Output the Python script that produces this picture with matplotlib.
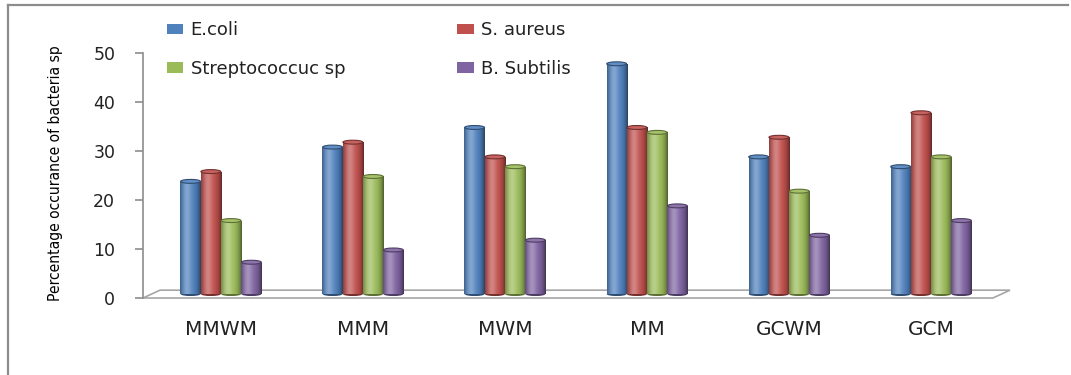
import numpy as np
import matplotlib
matplotlib.use("Agg")
import matplotlib.pyplot as plt
from matplotlib.patches import Ellipse, Polygon
from matplotlib.lines import Line2D
from matplotlib.colors import to_rgb

# ---- data -------------------------------------------------------------
categories = ["MMWM", "MMM", "MWM", "MM", "GCWM", "GCM"]
series_names = ["E.coli", "S. aureus", "Streptococcuc sp", "B. Subtilis"]
ecoli = [23, 30, 34, 47, 28, 26]
s_aureus = [25, 31, 28, 34, 32, 37]
streptococcus = [15, 24, 26, 33, 21, 28]
b_subtilis = [6.5, 9, 11, 18, 12, 15]
y_ticks = [0, 10, 20, 30, 40, 50]

series_values = [ecoli, s_aureus, streptococcus, b_subtilis]
colors = ["#4F81BD", "#C0504D", "#9BBB59", "#8064A2"]

# ---- figure -----------------------------------------------------------
fig = plt.figure(figsize=(10.71, 3.75), dpi=100)
fig.patch.set_facecolor("white")

W, H = 1071, 375
ax = fig.add_axes([143 / W, 1 - 298 / H, 867 / W, 245 / H])
ax.set_facecolor("none")

bar_w = 0.1426
depth_base = 0.8          # bars stand in the middle of the 3-D floor
floor_dx, floor_dy = 0.12, 1.6
xlim = (-0.549, 5.556)

x = np.arange(len(categories))


def cylinder_rgb(c, n=64):
    """Horizontal shading profile that makes a flat bar look like a cylinder."""
    base = np.array(to_rgb(c))
    t = np.linspace(0, 1, n)
    # highlight a bit left of the centre, darker rims
    light = np.exp(-((t - 0.33) / 0.22) ** 2) * 0.30
    dark = (np.abs(t - 0.45) / 0.55) ** 3 * 0.50
    rgb = base[None, :] * (1 - dark[:, None]) + (1 - base[None, :]) * light[:, None]
    return np.clip(rgb, 0, 1)[None, :, :]


handles = []
for i, (vals, col) in enumerate(zip(series_values, colors)):
    xs = x + (i - 1.5) * bar_w
    bars = ax.bar(xs, vals, width=bar_w, bottom=depth_base, color=col,
                  linewidth=0, zorder=3, label=series_names[i])
    handles.append(bars)
    grad = cylinder_rgb(col)
    cap_col = np.clip(np.array(to_rgb(col)) * 0.9 + 0.1, 0, 1)
    rim_col = np.array(to_rgb(col)) * 0.6
    for rect, v, xc in zip(bars.patches, vals, xs):
        im = ax.imshow(grad, extent=(xc - bar_w / 2, xc + bar_w / 2,
                                     depth_base, depth_base + v),
                       aspect="auto", zorder=3.1, interpolation="bilinear")
        im.set_clip_path(rect)
        ax.add_patch(Ellipse((xc, depth_base + v), bar_w * 0.98, 0.8,
                             facecolor=cap_col, edgecolor=rim_col,
                             linewidth=0.8, zorder=3.2))
        ax.add_patch(Ellipse((xc, depth_base), bar_w * 0.98, 0.8,
                             facecolor=rim_col, edgecolor="none",
                             zorder=2.9))

# ---- 3-D floor ------------------------------------------------------
front_right = xlim[1] - floor_dx
floor = Polygon([(xlim[0], 0), (front_right, 0),
                 (front_right + floor_dx, floor_dy),
                 (xlim[0] + floor_dx, floor_dy)],
                closed=True, facecolor="white", edgecolor="#A6A6A6",
                linewidth=1.2, zorder=1, clip_on=False)
ax.add_patch(floor)

# ---- axes styling ---------------------------------------------------
ax.set_xlim(*xlim)
ax.set_ylim(0, 50)
ax.set_yticks(y_ticks)
ax.set_xticks(x)
ax.set_xticklabels(categories)
for side in ("top", "right", "bottom"):
    ax.spines[side].set_visible(False)
ax.spines["left"].set_color("#8C8C8C")
ax.spines["left"].set_linewidth(1.2)
ax.tick_params(axis="y", direction="out", length=6, width=1.2,
               color="#8C8C8C", pad=14, labelsize=12.5, labelcolor="#222222")
ax.tick_params(axis="x", length=0, pad=16, labelsize=14.5,
               labelcolor="#222222")
for lab in ax.get_yticklabels() + ax.get_xticklabels():
    lab.set_fontfamily("DejaVu Sans")

ax.set_ylabel("Percentage occurance of bacteria sp",
              fontsize=11.2, family="DejaVu Sans", fontstretch="condensed",
              color="black")
ax.yaxis.set_label_coords(-0.092, 0.51)

# ---- legend ---------------------------------------------------------
order = [0, 2, 1, 3]
leg = fig.legend([handles[k] for k in order],
                 [series_names[k] for k in order],
                 loc="upper left", bbox_to_anchor=(160 / W, 1 - 14 / H),
                 ncol=2, frameon=False, fontsize=13,
                 handlelength=0.9, handleheight=0.5, handletextpad=0.4,
                 labelspacing=1.15, columnspacing=6.2, borderaxespad=0)
for t in leg.get_texts():
    t.set_color("#222222")

# ---- outer frame ----------------------------------------------------
fig.add_artist(Line2D([8 / W, 1068 / W], [1 - 5 / H, 1 - 5 / H],
                      color="#8C8C8C", linewidth=1.6))
fig.add_artist(Line2D([8 / W, 8 / W], [1 - 5 / H, 0],
                      color="#8C8C8C", linewidth=1.6))

fig.savefig("out.png", dpi=100)
